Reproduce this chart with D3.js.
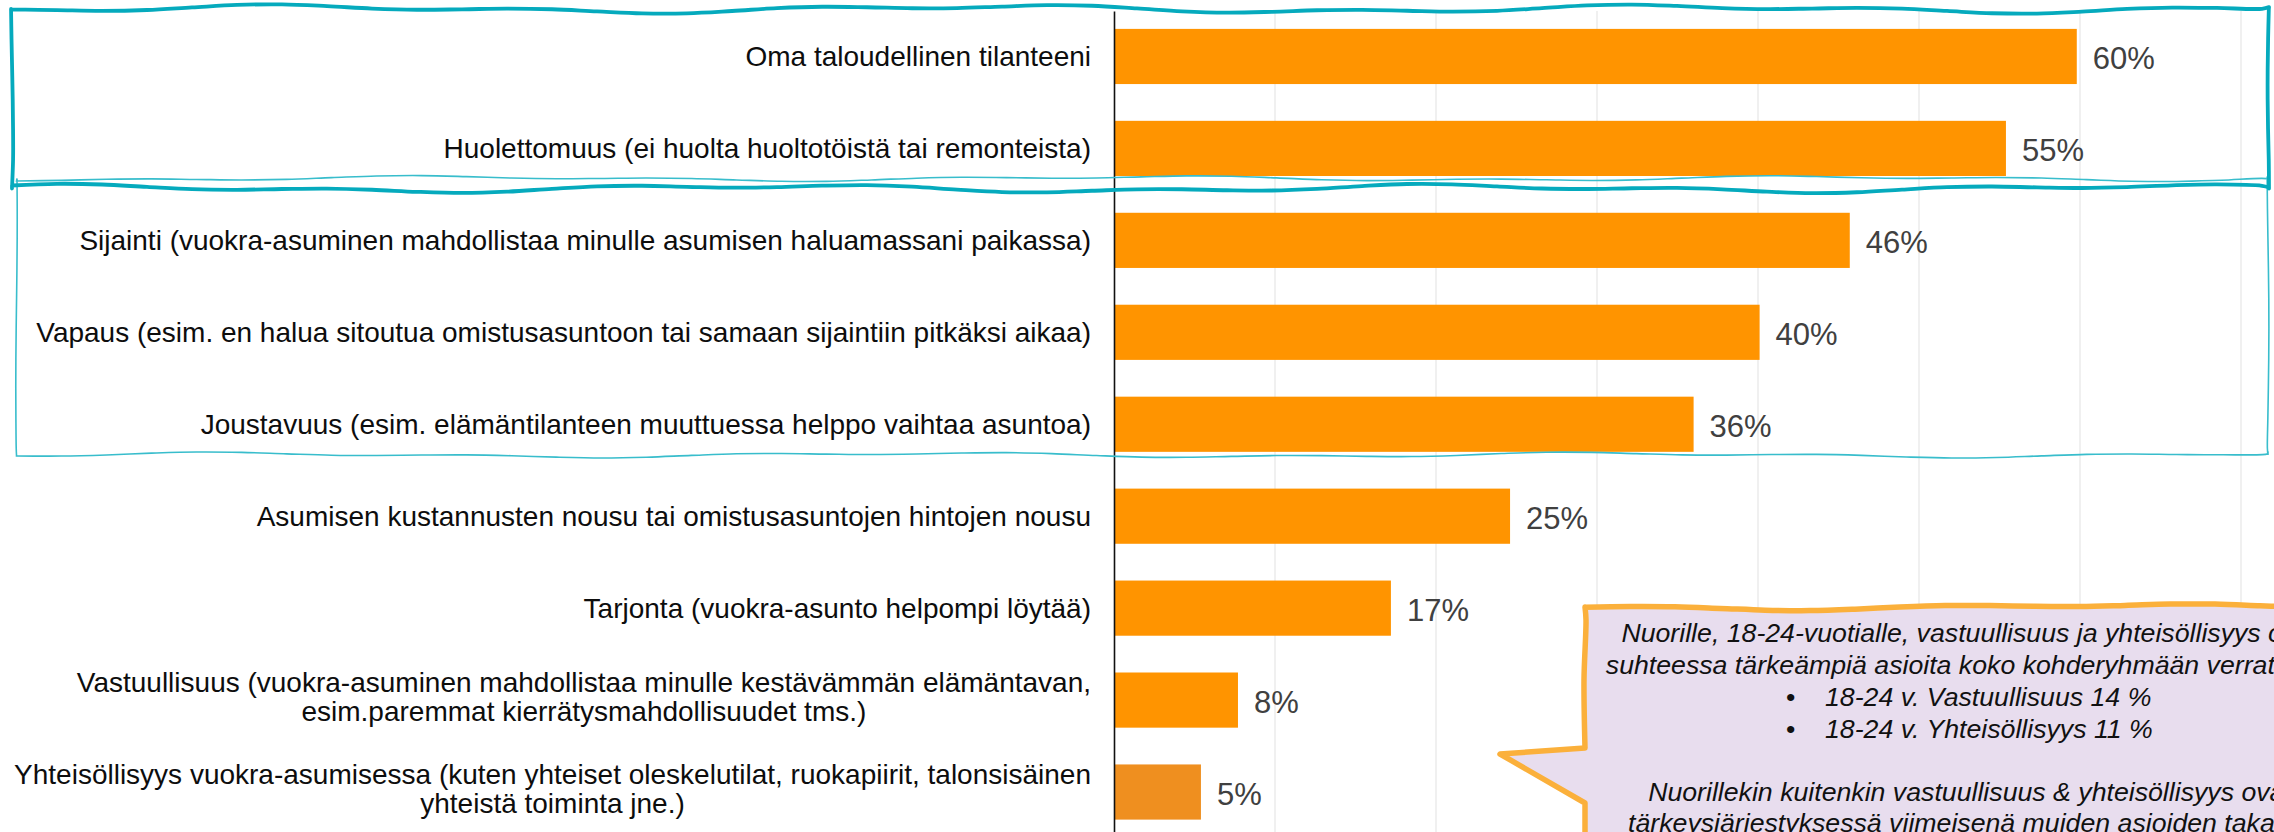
<!DOCTYPE html>
<html><head><meta charset="utf-8">
<script src="https://cdn.jsdelivr.net/npm/d3@7/dist/d3.min.js"></script>
<style>html,body{margin:0;padding:0;background:#fff;overflow:hidden}</style>
</head><body>
<svg id="chart" width="2274" height="832"></svg>
<script>
// ---------- data ----------
const categories = [
  "Oma taloudellinen tilanteeni",
  "Huolettomuus (ei huolta huoltotöistä tai remonteista)",
  "Sijainti (vuokra-asuminen mahdollistaa minulle asumisen haluamassani paikassa)",
  "Vapaus (esim. en halua sitoutua omistusasuntoon tai samaan sijaintiin pitkäksi aikaa)",
  "Joustavuus (esim. elämäntilanteen muuttuessa helppo vaihtaa asuntoa)",
  "Asumisen kustannusten nousu tai omistusasuntojen hintojen nousu",
  "Tarjonta (vuokra-asunto helpompi löytää)",
  "Vastuullisuus (vuokra-asuminen mahdollistaa minulle kestävämmän elämäntavan,\nesim.paremmat kierrätysmahdollisuudet tms.)",
  "Yhteisöllisyys vuokra-asumisessa (kuten yhteiset oleskelutilat, ruokapiirit, talonsisäinen\nyhteistä toiminta jne.)"
];
const values = [59.8, 55.4, 45.7, 40.1, 36.0, 24.6, 17.2, 7.7, 5.4];
const valueLabels = ["60%", "55%", "46%", "40%", "36%", "25%", "17%", "8%", "5%"];
const gridTicks = [10, 20, 30, 40, 50, 60, 70];
const calloutLines = [
  "Nuorille, 18-24-vuotialle, vastuullisuus ja yhteisöllisyys ovat",
  "suhteessa tärkeämpiä asioita koko kohderyhmään verrattuna:"
];
const calloutBullets = ["18-24 v. Vastuullisuus 14 %", "18-24 v. Yhteisöllisyys 11 %"];
const calloutLines2 = [
  "Nuorillekin kuitenkin vastuullisuus & yhteisöllisyys ovat",
  "tärkeysjärjestyksessä viimeisenä muiden asioiden takana."
];

// ---------- setup ----------
const svg = d3.select("#chart");
const FONT = "'Liberation Sans', Arial, Helvetica, sans-serif";
const x = d3.scaleLinear().domain([0, 70]).range([1114, 2241]);
const y = d3.scaleBand().domain(d3.range(categories.length))
  .range([10.5, 838]).paddingInner(0.4).paddingOuter(0.2);

// gridlines
svg.append("g").selectAll("line").data(gridTicks).join("line")
  .attr("x1", d => x(d)).attr("x2", d => x(d))
  .attr("y1", 11).attr("y2", 832)
  .attr("stroke", "#ebebeb").attr("stroke-width", 1.5);

// bars
svg.append("g").selectAll("rect").data(values).join("rect")
  .attr("x", x(0)).attr("y", (d, i) => y(i))
  .attr("width", d => x(d) - x(0)).attr("height", y.bandwidth())
  .attr("fill", (d, i) => i === values.length - 1 ? "#EF8F1F" : "#FF9400");

// value labels
svg.append("g").selectAll("text").data(values).join("text")
  .attr("x", d => x(d) + 16)
  .attr("y", (d, i) => y(i) + y.bandwidth() / 2 + 12.5)
  .attr("font-family", FONT).attr("font-size", 31).attr("fill", "#404040")
  .text((d, i) => valueLabels[i]);

// axis line (y axis, no ticks)
const yAxis = d3.axisLeft(d3.scaleLinear().range([11, 832])).tickValues([]).tickSizeOuter(0);
svg.append("g").attr("transform", `translate(${x(0)},0)`).call(yAxis)
  .select(".domain").attr("stroke", "#111").attr("stroke-width", 1.6);

// category labels
const labelRight = 1091;
const lg = svg.append("g").attr("font-family", FONT).attr("font-size", 28).attr("fill", "#0d0d0d");
categories.forEach((c, i) => {
  const cy = y(i) + y.bandwidth() / 2;
  const parts = c.split("\n");
  if (parts.length === 1) {
    lg.append("text").attr("x", labelRight).attr("y", cy + 10)
      .attr("text-anchor", "end").text(parts[0]);
  } else {
    const t1 = lg.append("text").attr("x", labelRight).attr("y", cy - 8)
      .attr("text-anchor", "end").text(parts[0]);
    const w = t1.node().getComputedTextLength();
    lg.append("text").attr("x", labelRight - w / 2).attr("y", cy + 20.5)
      .attr("text-anchor", "middle").text(parts[1]);
  }
});

// ---------- hand-drawn highlight boxes ----------
function wavy(x0, x1, yBase, amp, seed) {
  const pts = [];
  for (let xx = x0; xx <= x1; xx += 45) {
    pts.push([xx, yBase + amp * Math.sin(xx / 110 + seed) + amp * 0.7 * Math.sin(xx / 43 + seed * 2.3)]);
  }
  pts.push([x1, yBase + amp * Math.sin(x1 / 110 + seed)]);
  return pts;
}
function vwavy(y0, y1, xBase, amp, seed) {
  const pts = [];
  for (let yy = y0; yy <= y1; yy += 30) {
    pts.push([xBase + amp * Math.sin(yy / 53 + seed), yy]);
  }
  pts.push([xBase, y1]);
  return pts;
}
const lineGen = d3.line().curve(d3.curveCatmullRom.alpha(0.5));
function box(xl, xr, yt, yb, amp, seed) {
  const top = wavy(xl, xr, yt, amp, seed);
  const right = vwavy(yt, yb, xr, amp * 0.5, seed + 1);
  const bottom = wavy(xl, xr, yb, amp, seed + 2).reverse();
  const left = vwavy(yt, yb, xl, amp * 0.4, seed + 3).reverse();
  return lineGen(top) + lineGen(right).replace("M", "L") + lineGen(bottom).replace("M", "L") + lineGen(left).replace("M", "L") + "Z";
}
// thin box (rows 3-5)
svg.append("path").attr("d", box(16.5, 2268, 178.5, 455, 1.8, 0.7))
  .attr("fill", "none").attr("stroke", "#38BDCC").attr("stroke-width", 1.6);
// thick box (rows 1-2)
svg.append("path").attr("d", box(12, 2269, 9, 188.5, 2.8, 2.1))
  .attr("fill", "none").attr("stroke", "#05AABD").attr("stroke-width", 3.8)
  .attr("stroke-linejoin", "round");

// ---------- callout ----------
const cTop = wavy(1585, 2290, 607, 2.2, 4.3);
const cPath = "M1585,845 L1585,803 L1500,754 L1585,748 " +
  lineGen([[1585, 748], [1584, 680], [1586, 620], [1585, 607]]).replace("M", "L") +
  lineGen(cTop).replace("M", "L") + " L2290,845 Z";
svg.append("path").attr("d", cPath)
  .attr("fill", "#E8DDEE").attr("stroke", "#FBB03B").attr("stroke-width", 5.5)
  .attr("stroke-linejoin", "round");

const cg = svg.append("g").attr("font-family", FONT).attr("font-size", 26.7)
  .attr("font-style", "italic").attr("fill", "#111");
const cx = 1970;
calloutLines.forEach((t, i) => cg.append("text").attr("x", cx).attr("y", 642 + i * 32)
  .attr("text-anchor", "middle").text(t));
calloutBullets.forEach((t, i) => {
  cg.append("text").attr("x", 1786).attr("y", 706 + i * 32).attr("font-style", "normal").text("•");
  cg.append("text").attr("x", 1825).attr("y", 706 + i * 32).text(t);
});
calloutLines2.forEach((t, i) => cg.append("text").attr("x", cx).attr("y", 801 + i * 31)
  .attr("text-anchor", "middle").text(t));
</script>
</body></html>
